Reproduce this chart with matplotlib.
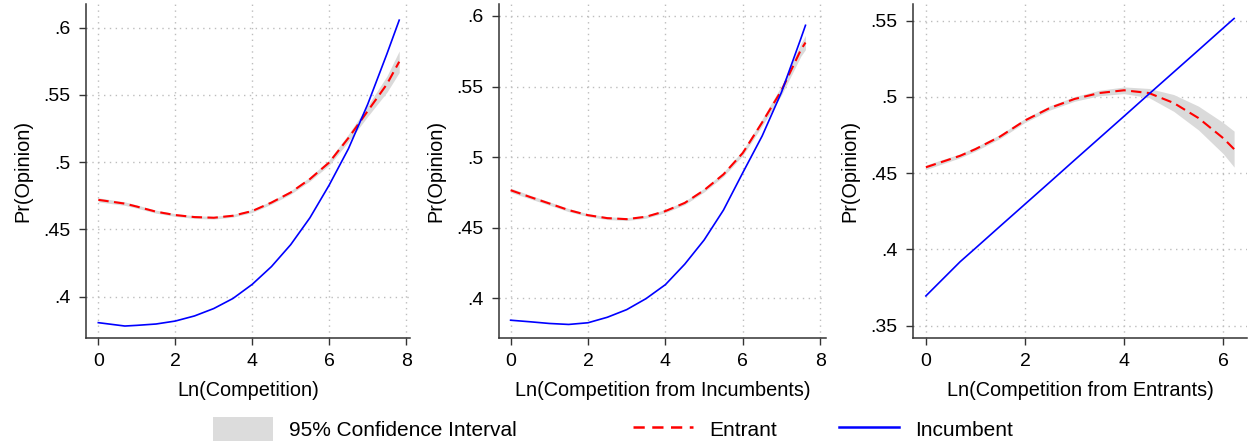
import matplotlib
matplotlib.use("Agg")
import matplotlib.pyplot as plt
from matplotlib.patches import Patch
from matplotlib.lines import Line2D
import numpy as np

plt.rcParams['font.family'] = ['Liberation Sans', 'DejaVu Sans']

# ---- Panel 1: Ln(Competition)
x1 = [0, 0.69, 1.0, 1.5, 2.0, 2.5, 3.0, 3.5, 4.0, 4.5, 5.0, 5.5, 6.0, 6.5, 7.0, 7.5, 7.82]
ent1 = [0.4720, 0.4692, 0.4670, 0.4632, 0.4607, 0.4592, 0.4587, 0.4602, 0.4637, 0.4700, 0.4775,
        0.4875, 0.4998, 0.5180, 0.5380, 0.5580, 0.5747]
ent1_ci = [0.0015, 0.0013, 0.0012, 0.0011, 0.0010, 0.0010, 0.0010, 0.0010, 0.0011, 0.0012, 0.0013,
           0.0015, 0.0020, 0.0028, 0.0040, 0.0060, 0.0080]
inc1 = [0.3807, 0.3782, 0.3787, 0.3797, 0.3819, 0.3857, 0.3912, 0.3987, 0.4092, 0.4224, 0.4387,
        0.4587, 0.4830, 0.5100, 0.5430, 0.5805, 0.6056]

# ---- Panel 2: Ln(Competition from Incumbents)
x2 = [0, 0.5, 1.0, 1.5, 2.0, 2.5, 3.0, 3.5, 4.0, 4.5, 5.0, 5.5, 6.0, 6.5, 7.0, 7.5, 7.62]
ent2 = [0.4766, 0.4718, 0.4672, 0.4625, 0.4589, 0.4568, 0.4561, 0.4578, 0.4618, 0.4676, 0.4766,
        0.4878, 0.5030, 0.5246, 0.5473, 0.5760, 0.5812]
ent2_ci = [0.0015, 0.0013, 0.0012, 0.0011, 0.0010, 0.0010, 0.0010, 0.0010, 0.0011, 0.0012, 0.0013,
           0.0015, 0.0018, 0.0024, 0.0033, 0.0045, 0.0050]
inc2 = [0.3845, 0.3834, 0.3822, 0.3815, 0.3827, 0.3866, 0.3920, 0.3998, 0.4097, 0.4242, 0.4413,
        0.4625, 0.4890, 0.5150, 0.5460, 0.5840, 0.5934]

# ---- Panel 3: Ln(Competition from Entrants)
x3 = [0, 0.69, 1.0, 1.5, 2.0, 2.5, 3.0, 3.5, 4.0, 4.5, 5.0, 5.5, 6.0, 6.22]
ent3 = [0.4539, 0.4614, 0.4658, 0.4741, 0.4846, 0.4928, 0.4987, 0.5026, 0.5044, 0.5026, 0.4961,
        0.4862, 0.4730, 0.4658]
ent3_ci = [0.0015, 0.0013, 0.0013, 0.0013, 0.0013, 0.0014, 0.0015, 0.0018, 0.0022, 0.0030, 0.0055,
           0.0078, 0.0102, 0.0118]
inc3 = [0.3695, 0.3919, 0.4008, 0.4153, 0.4297, 0.4441, 0.4586, 0.4730, 0.4874, 0.5019, 0.5163,
        0.5307, 0.5452, 0.5515]

xlabels = ["Ln(Competition)", "Ln(Competition from Incumbents)", "Ln(Competition from Entrants)"]
ylabel = "Pr(Opinion)"
xticks_list = [[0, 2, 4, 6, 8], [0, 2, 4, 6, 8], [0, 2, 4, 6]]
yticks_list = [[0.4, 0.45, 0.5, 0.55, 0.6], [0.4, 0.45, 0.5, 0.55, 0.6], [0.35, 0.4, 0.45, 0.5, 0.55]]
ytick_labels = [[".4", ".45", ".5", ".55", ".6"], [".4", ".45", ".5", ".55", ".6"], [".35", ".4", ".45", ".5", ".55"]]
legend_labels = ["95% Confidence Interval", "Entrant", "Incumbent"]

fig = plt.figure(figsize=(12.48, 4.43), dpi=100)
W, H = 1248, 443
rects = [(86, 410), (499, 826), (913, 1247)]
bottom_px, top_px = 338, 4
xlims = [(-0.32, 8.1), (-0.30, 8.15), (-0.26, 6.48)]
ylims = [(0.3693, 0.6176), (0.3719, 0.6085), (0.3419, 0.5610)]

red = '#ff0000'
blue = '#0000ff'
band = '#dadada'
dash = (5.0, 2.6)

data = [(x1, ent1, ent1_ci, inc1), (x2, ent2, ent2_ci, inc2), (x3, ent3, ent3_ci, inc3)]

for i, (xx, ee, cc, ii) in enumerate(data):
    l, r = rects[i]
    ax = fig.add_axes([l / W, (H - bottom_px) / H, (r - l) / W, (bottom_px - top_px) / H])
    xx = np.array(xx); ee = np.array(ee); cc = np.array(cc); ii = np.array(ii)
    ax.fill_between(xx, ee - cc, ee + cc, color=band, lw=0, zorder=2)
    ax.plot(xx, ee, color=red, lw=1.5, dashes=dash, zorder=3, solid_joinstyle='round')
    ax.plot(xx, ii, color=blue, lw=1.2, zorder=4, solid_joinstyle='round')
    ax.set_xlim(*xlims[i])
    ax.set_ylim(*ylims[i])
    ax.set_xticks(xticks_list[i])
    ax.set_yticks(yticks_list[i])
    ax.set_yticklabels(ytick_labels[i])
    ax.grid(True, color='#bdbdbd', linestyle=(0, (1, 3.2)), lw=1.0, zorder=1)
    for s in ['top', 'right']:
        ax.spines[s].set_visible(False)
    for s in ['left', 'bottom']:
        ax.spines[s].set_color('#333333')
        ax.spines[s].set_linewidth(1.1)
    ax.tick_params(axis='both', direction='out', length=5, width=1.0, color='#333333',
                   labelsize=14, pad=6)
    ax.set_xlabel(xlabels[i], fontsize=14.3, labelpad=8)
    ax.set_ylabel(ylabel, fontsize=14.3, labelpad=8)

handles = [Patch(facecolor='#dcdcdc', edgecolor='none'),
           Line2D([], [], color=red, lw=1.8, dashes=(4.5, 3)),
           Line2D([], [], color=blue, lw=1.8)]
xs = [213, 633, 839]
for h, lab, xp in zip(handles, legend_labels, xs):
    fig.legend([h], [lab], loc='center left', bbox_to_anchor=(xp / W, (H - 429) / H),
               frameon=False, fontsize=15, handlelength=2.9, handleheight=1.35,
               handletextpad=0.75, borderpad=0, borderaxespad=0)

fig.savefig('out.png', dpi=100)
